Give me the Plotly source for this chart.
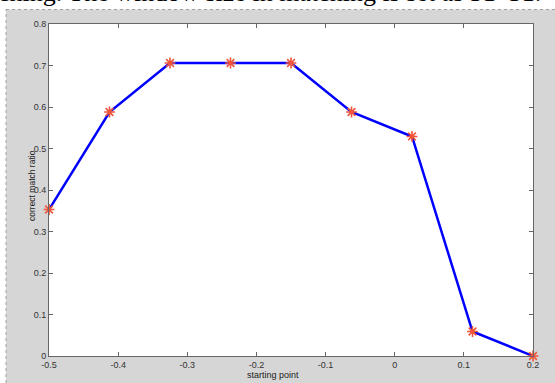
import plotly.graph_objects as go

x_vals = [-0.5, -0.4125, -0.325, -0.2375, -0.15, -0.0625, 0.025, 0.1125, 0.2]
y_vals = [0.353, 0.588, 0.706, 0.706, 0.706, 0.588, 0.529, 0.059, 0.0]
x_ticks = [-0.5, -0.4, -0.3, -0.2, -0.1, 0, 0.1, 0.2]
x_tick_text = ["-0.5", "-0.4", "-0.3", "-0.2", "-0.1", "0", "0.1", "0.2"]
y_ticks = [0, 0.1, 0.2, 0.3, 0.4, 0.5, 0.6, 0.7, 0.8]
y_tick_text = ["0", "0.1", "0.2", "0.3", "0.4", "0.5", "0.6", "0.7", "0.8"]
caption = "matching. The window size in matching is set as 31*31."

W, H = 555, 383
L, R, T, B = 49, 533, 24, 356
pw, ph = R - L, B - T

def px(x):
    return (x - L) / pw

def py(y):
    return (B - y) / ph

fig = go.Figure()
fig.add_trace(go.Scatter(x=x_vals, y=y_vals, mode="lines",
                         line=dict(color="#0000ff", width=2.5),
                         cliponaxis=False, hoverinfo="skip"))
fig.add_trace(go.Scatter(x=x_vals, y=y_vals, mode="markers",
                         marker=dict(symbol="asterisk-open", size=9,
                                     line=dict(color="#ff0000", width=1.6)),
                         cliponaxis=False))

axis_common = dict(showgrid=False, zeroline=False, showline=True, linecolor="#666666",
                   linewidth=1, mirror="ticks", ticks="inside", ticklen=4,
                   tickcolor="#666666", tickfont=dict(family="Liberation Sans", size=9, color="#333333"))

fig.update_xaxes(range=[-0.5, 0.2], tickvals=x_ticks, ticktext=x_tick_text, **axis_common)
fig.update_yaxes(range=[0, 0.8], tickvals=y_ticks, ticktext=y_tick_text, **axis_common)

fig.update_layout(
    width=W, height=H, showlegend=False,
    margin=dict(l=L, r=W - R, t=T, b=H - B, pad=0),
    paper_bgcolor="white", plot_bgcolor="white",
    shapes=[
        dict(type="rect", xref="paper", yref="paper",
             x0=px(6), x1=px(W + 5), y0=py(H + 5), y1=py(9.5),
             fillcolor="#d6d6d6", line=dict(width=0), layer="below"),
        dict(type="line", xref="paper", yref="paper",
             x0=px(6), x1=px(W), y0=py(9.5), y1=py(9.5),
             line=dict(color="#a0a0a0", width=1, dash="dot"), layer="below"),
        dict(type="line", xref="paper", yref="paper",
             x0=px(6), x1=px(6), y0=py(H), y1=py(9.5),
             line=dict(color="#a0a0a0", width=1, dash="dot"), layer="below"),
        dict(type="rect", xref="paper", yref="paper", x0=0, x1=1, y0=0, y1=1,
             fillcolor="white", line=dict(width=0), layer="below"),
    ],
    annotations=[
        dict(text=caption, xref="paper", yref="paper", x=px(543), y=py(8.5),
             xanchor="right", yanchor="bottom", showarrow=False,
             font=dict(family="Liberation Serif", size=26, color="black")),
        dict(text="starting point", xref="paper", yref="paper", x=px(273), y=py(375),
             xanchor="center", yanchor="middle", showarrow=False,
             font=dict(family="Liberation Sans", size=9, color="#222222")),
        dict(text="correct match ratio", xref="paper", yref="paper", x=px(32), y=py(186),
             xanchor="center", yanchor="middle", showarrow=False, textangle=-90,
             font=dict(family="Liberation Sans", size=8.5, color="#222222")),
    ],
)

fig.write_html("out.html", config={"displayModeBar": False},
               post_script="document.body.style.margin='0';document.body.style.overflow='hidden';")
